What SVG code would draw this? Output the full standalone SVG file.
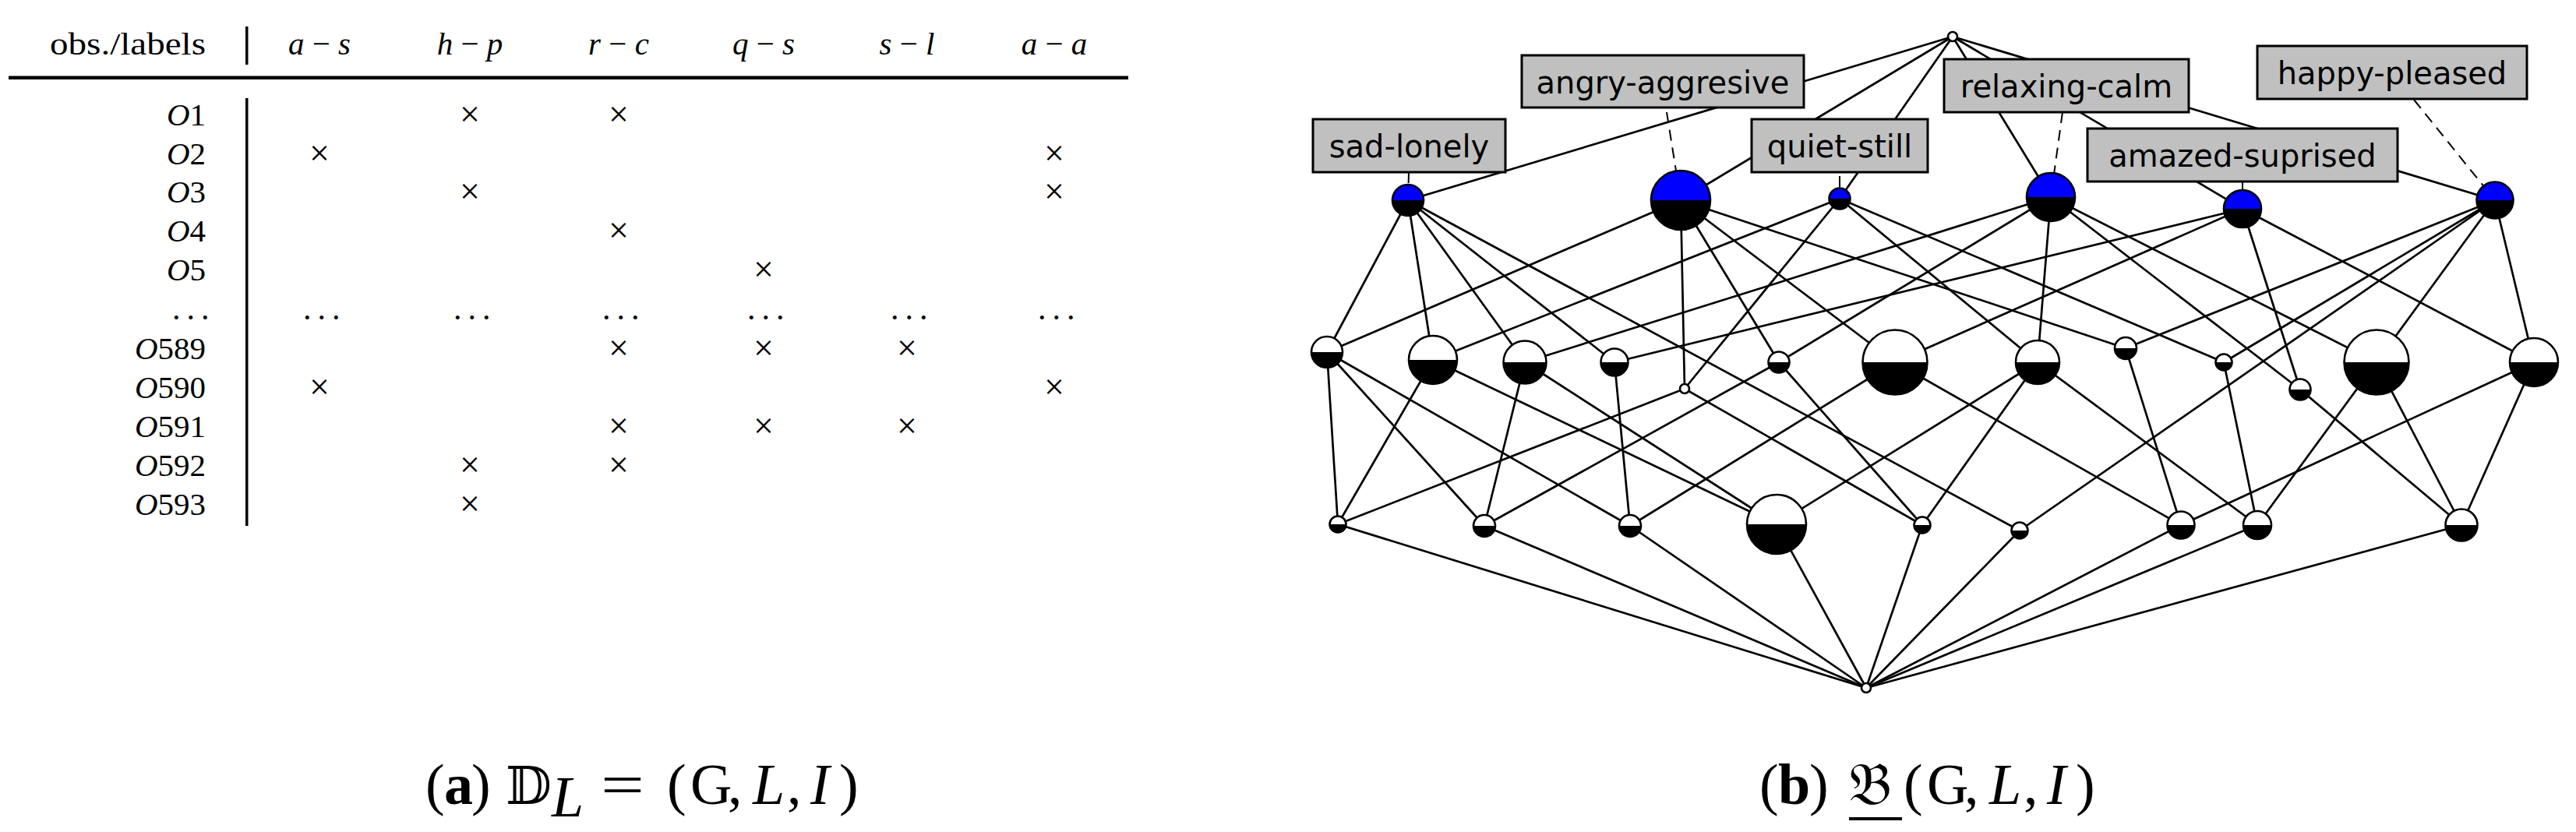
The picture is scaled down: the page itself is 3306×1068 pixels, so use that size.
<svg xmlns="http://www.w3.org/2000/svg" width="3306" height="1068" viewBox="0 0 3306 1068">
<style>
.tt{font-family:"Liberation Serif",serif;font-size:41px;fill:#000}
.it{font-style:italic}
.cx{font-family:"Liberation Serif",serif;font-size:46px;text-anchor:middle}
.dots{font-family:"Liberation Serif",serif;font-size:42px;letter-spacing:8px}
.e{stroke:#000;stroke-width:2.7;fill:none}
.dl{stroke:#000;stroke-width:2;stroke-dasharray:14 9;fill:none}
.w{fill:#fff}
.bl{fill:#0000ff}
.k{fill:#000}
.ring{fill:none;stroke:#000;stroke-width:2.6}
.box{fill:#c0c0c0;stroke:#000;stroke-width:3}
.lt{font-family:"DejaVu Sans",sans-serif;font-size:40px;text-anchor:middle;fill:#000}
.cap{font-family:"Liberation Serif",serif;font-size:74px;fill:#000}
.ms{font-family:"DejaVu Serif","DejaVu Sans",serif}
</style>
<rect width="3306" height="1068" fill="#fff"/>

<g id="table">
<text class="tt" x="264" y="70" text-anchor="end" textLength="200" lengthAdjust="spacingAndGlyphs">obs./labels</text>
<rect x="315" y="34" width="3.5" height="49" fill="#000"/>
<rect x="11" y="97.5" width="1437" height="4.5" fill="#000"/>
<rect x="315" y="126" width="3.5" height="549" fill="#000"/>
<g class="tt" text-anchor="middle">
<text x="410" y="70"><tspan class="it">a</tspan> − <tspan class="it">s</tspan></text>
<text x="603" y="70"><tspan class="it">h</tspan> − <tspan class="it">p</tspan></text>
<text x="794" y="70"><tspan class="it">r</tspan> − <tspan class="it">c</tspan></text>
<text x="980" y="70"><tspan class="it">q</tspan> − <tspan class="it">s</tspan></text>
<text x="1164" y="70"><tspan class="it">s</tspan> − <tspan class="it">l</tspan></text>
<text x="1353" y="70"><tspan class="it">a</tspan> − <tspan class="it">a</tspan></text>
</g>
<g class="tt" text-anchor="end">
<text x="264" y="161"><tspan class="it">O</tspan>1</text>
<text x="264" y="211"><tspan class="it">O</tspan>2</text>
<text x="264" y="260"><tspan class="it">O</tspan>3</text>
<text x="264" y="310"><tspan class="it">O</tspan>4</text>
<text x="264" y="360"><tspan class="it">O</tspan>5</text>
<text x="264" y="461"><tspan class="it">O</tspan>589</text>
<text x="264" y="511"><tspan class="it">O</tspan>590</text>
<text x="264" y="561"><tspan class="it">O</tspan>591</text>
<text x="264" y="611"><tspan class="it">O</tspan>592</text>
<text x="264" y="661"><tspan class="it">O</tspan>593</text>
</g>
<g class="dots">
<text x="221" y="410">...</text>
<text x="389" y="410">...</text>
<text x="582" y="410">...</text>
<text x="773" y="410">...</text>
<text x="959" y="410">...</text>
<text x="1143" y="410">...</text>
<text x="1332" y="410">...</text>
</g>
<g class="cx">
<text x="603" y="162">×</text><text x="794" y="162">×</text>
<text x="410" y="212">×</text><text x="1353" y="212">×</text>
<text x="603" y="261">×</text><text x="1353" y="261">×</text>
<text x="794" y="311">×</text>
<text x="980" y="361">×</text>
<text x="794" y="462">×</text><text x="980" y="462">×</text><text x="1164" y="462">×</text>
<text x="410" y="512">×</text><text x="1353" y="512">×</text>
<text x="794" y="562">×</text><text x="980" y="562">×</text><text x="1164" y="562">×</text>
<text x="603" y="612">×</text><text x="794" y="612">×</text>
<text x="603" y="662">×</text>
</g>
</g>

<g id="edges">
<line class="e" x1="2506" y1="47" x2="1807" y2="257"/>
<line class="e" x1="2506" y1="47" x2="2157" y2="257"/>
<line class="e" x1="2506" y1="47" x2="2361" y2="255"/>
<line class="e" x1="2506" y1="47" x2="2632" y2="253"/>
<line class="e" x1="2506" y1="47" x2="2878" y2="268"/>
<line class="e" x1="2506" y1="47" x2="3202" y2="257"/>
<line class="e" x1="1807" y1="257" x2="1703" y2="452"/>
<line class="e" x1="1807" y1="257" x2="1839" y2="462"/>
<line class="e" x1="1807" y1="257" x2="1957" y2="465"/>
<line class="e" x1="1807" y1="257" x2="2072" y2="465"/>
<line class="e" x1="1807" y1="257" x2="2592" y2="681"/>
<line class="e" x1="2157" y1="257" x2="1703" y2="452"/>
<line class="e" x1="2157" y1="257" x2="2162" y2="499"/>
<line class="e" x1="2157" y1="257" x2="2283" y2="465"/>
<line class="e" x1="2157" y1="257" x2="2432" y2="465"/>
<line class="e" x1="2157" y1="257" x2="2728" y2="447"/>
<line class="e" x1="2361" y1="255" x2="1839" y2="462"/>
<line class="e" x1="2361" y1="255" x2="2162" y2="499"/>
<line class="e" x1="2361" y1="255" x2="2615" y2="465"/>
<line class="e" x1="2361" y1="255" x2="2854" y2="465"/>
<line class="e" x1="2632" y1="253" x2="1957" y2="465"/>
<line class="e" x1="2632" y1="253" x2="2283" y2="465"/>
<line class="e" x1="2632" y1="253" x2="2615" y2="465"/>
<line class="e" x1="2632" y1="253" x2="2952" y2="500"/>
<line class="e" x1="2632" y1="253" x2="3050" y2="465"/>
<line class="e" x1="2878" y1="268" x2="2072" y2="465"/>
<line class="e" x1="2878" y1="268" x2="2432" y2="465"/>
<line class="e" x1="2878" y1="268" x2="2952" y2="500"/>
<line class="e" x1="2878" y1="268" x2="3252" y2="465"/>
<line class="e" x1="3202" y1="257" x2="2728" y2="447"/>
<line class="e" x1="3202" y1="257" x2="2854" y2="465"/>
<line class="e" x1="3202" y1="257" x2="2592" y2="681"/>
<line class="e" x1="3202" y1="257" x2="3050" y2="465"/>
<line class="e" x1="3202" y1="257" x2="3252" y2="465"/>
<line class="e" x1="1703" y1="452" x2="1717" y2="673"/>
<line class="e" x1="1703" y1="452" x2="1905" y2="675"/>
<line class="e" x1="1703" y1="452" x2="2092" y2="675"/>
<line class="e" x1="1839" y1="462" x2="1717" y2="673"/>
<line class="e" x1="1839" y1="462" x2="2280" y2="673"/>
<line class="e" x1="1957" y1="465" x2="1905" y2="675"/>
<line class="e" x1="1957" y1="465" x2="2280" y2="673"/>
<line class="e" x1="2072" y1="465" x2="2092" y2="675"/>
<line class="e" x1="2162" y1="499" x2="1717" y2="673"/>
<line class="e" x1="2162" y1="499" x2="2467" y2="674"/>
<line class="e" x1="2283" y1="465" x2="1905" y2="675"/>
<line class="e" x1="2283" y1="465" x2="2467" y2="674"/>
<line class="e" x1="2432" y1="465" x2="2092" y2="675"/>
<line class="e" x1="2432" y1="465" x2="2799" y2="674"/>
<line class="e" x1="2615" y1="465" x2="2280" y2="673"/>
<line class="e" x1="2615" y1="465" x2="2467" y2="674"/>
<line class="e" x1="2615" y1="465" x2="2897" y2="674"/>
<line class="e" x1="2728" y1="447" x2="2799" y2="674"/>
<line class="e" x1="2854" y1="465" x2="2897" y2="674"/>
<line class="e" x1="2952" y1="500" x2="3159" y2="674"/>
<line class="e" x1="3050" y1="465" x2="2897" y2="674"/>
<line class="e" x1="3050" y1="465" x2="3159" y2="674"/>
<line class="e" x1="3252" y1="465" x2="2799" y2="674"/>
<line class="e" x1="3252" y1="465" x2="3159" y2="674"/>
<line class="e" x1="1717" y1="673" x2="2395" y2="883"/>
<line class="e" x1="1905" y1="675" x2="2395" y2="883"/>
<line class="e" x1="2092" y1="675" x2="2395" y2="883"/>
<line class="e" x1="2280" y1="673" x2="2395" y2="883"/>
<line class="e" x1="2467" y1="674" x2="2395" y2="883"/>
<line class="e" x1="2592" y1="681" x2="2395" y2="883"/>
<line class="e" x1="2799" y1="674" x2="2395" y2="883"/>
<line class="e" x1="2897" y1="674" x2="2395" y2="883"/>
<line class="e" x1="3159" y1="674" x2="2395" y2="883"/>
<line class="dl" x1="1808" y1="221" x2="1807" y2="257"/>
<line class="dl" x1="2139" y1="144" x2="2157" y2="257"/>
<line class="dl" x1="2361" y1="226" x2="2361" y2="255"/>
<line class="dl" x1="2647" y1="144" x2="2632" y2="253"/>
<line class="dl" x1="2878" y1="233" x2="2878" y2="268"/>
<line class="dl" x1="3098" y1="128" x2="3202" y2="257"/>
</g>

<g id="n-top"><circle cx="2506" cy="47" r="6" class="w"/><circle cx="2506" cy="47" r="6" class="ring"/></g>
<g id="n-sad"><circle cx="1807" cy="257" r="20" class="bl"/><path class="k" d="M1787,257A20,20 0 0 0 1827,257Z"/><circle cx="1807" cy="257" r="20" class="ring"/></g>
<g id="n-angry"><circle cx="2157" cy="257" r="38" class="bl"/><path class="k" d="M2119,257A38,38 0 0 0 2195,257Z"/><circle cx="2157" cy="257" r="38" class="ring"/></g>
<g id="n-quiet"><circle cx="2361" cy="255" r="13.5" class="bl"/><path class="k" d="M2347.5,255A13.5,13.5 0 0 0 2374.5,255Z"/><circle cx="2361" cy="255" r="13.5" class="ring"/></g>
<g id="n-relax"><circle cx="2632" cy="253" r="31" class="bl"/><path class="k" d="M2601,253A31,31 0 0 0 2663,253Z"/><circle cx="2632" cy="253" r="31" class="ring"/></g>
<g id="n-amazed"><circle cx="2878" cy="268" r="24" class="bl"/><path class="k" d="M2854,268A24,24 0 0 0 2902,268Z"/><circle cx="2878" cy="268" r="24" class="ring"/></g>
<g id="n-happy"><circle cx="3202" cy="257" r="23.5" class="bl"/><path class="k" d="M3178.5,257A23.5,23.5 0 0 0 3225.5,257Z"/><circle cx="3202" cy="257" r="23.5" class="ring"/></g>

<g id="n-m1"><circle cx="1703" cy="452" r="20" class="w"/><path class="k" d="M1683,452A20,20 0 0 0 1723,452Z"/><circle cx="1703" cy="452" r="20" class="ring"/></g>
<g id="n-m2"><circle cx="1839" cy="462" r="31" class="w"/><path class="k" d="M1808,462A31,31 0 0 0 1870,462Z"/><circle cx="1839" cy="462" r="31" class="ring"/></g>
<g id="n-m3"><circle cx="1957" cy="465" r="27.5" class="w"/><path class="k" d="M1929.5,465A27.5,27.5 0 0 0 1984.5,465Z"/><circle cx="1957" cy="465" r="27.5" class="ring"/></g>
<g id="n-m4"><circle cx="2072" cy="465" r="17.5" class="w"/><path class="k" d="M2054.5,465A17.5,17.5 0 0 0 2089.5,465Z"/><circle cx="2072" cy="465" r="17.5" class="ring"/></g>
<g id="n-m5"><circle cx="2162" cy="499" r="6" class="w"/><circle cx="2162" cy="499" r="6" class="ring"/></g>
<g id="n-m6"><circle cx="2283" cy="465" r="13.5" class="w"/><path class="k" d="M2269.5,465A13.5,13.5 0 0 0 2296.5,465Z"/><circle cx="2283" cy="465" r="13.5" class="ring"/></g>
<g id="n-m7"><circle cx="2432" cy="465" r="41.5" class="w"/><path class="k" d="M2390.5,465A41.5,41.5 0 0 0 2473.5,465Z"/><circle cx="2432" cy="465" r="41.5" class="ring"/></g>
<g id="n-m8"><circle cx="2615" cy="465" r="28" class="w"/><path class="k" d="M2587,465A28,28 0 0 0 2643,465Z"/><circle cx="2615" cy="465" r="28" class="ring"/></g>
<g id="n-m9"><circle cx="2728" cy="447" r="14" class="w"/><path class="k" d="M2714,447A14,14 0 0 0 2742,447Z"/><circle cx="2728" cy="447" r="14" class="ring"/></g>
<g id="n-m10"><circle cx="2854" cy="465" r="10.5" class="w"/><path class="k" d="M2843.5,465A10.5,10.5 0 0 0 2864.5,465Z"/><circle cx="2854" cy="465" r="10.5" class="ring"/></g>
<g id="n-m11"><circle cx="2952" cy="500" r="13.5" class="w"/><path class="k" d="M2938.5,500A13.5,13.5 0 0 0 2965.5,500Z"/><circle cx="2952" cy="500" r="13.5" class="ring"/></g>
<g id="n-m12"><circle cx="3050" cy="465" r="41.5" class="w"/><path class="k" d="M3008.5,465A41.5,41.5 0 0 0 3091.5,465Z"/><circle cx="3050" cy="465" r="41.5" class="ring"/></g>
<g id="n-m13"><circle cx="3252" cy="465" r="31" class="w"/><path class="k" d="M3221,465A31,31 0 0 0 3283,465Z"/><circle cx="3252" cy="465" r="31" class="ring"/></g>

<g id="n-b1"><circle cx="1717" cy="673" r="10.5" class="w"/><path class="k" d="M1706.5,673A10.5,10.5 0 0 0 1727.5,673Z"/><circle cx="1717" cy="673" r="10.5" class="ring"/></g>
<g id="n-b2"><circle cx="1905" cy="675" r="14" class="w"/><path class="k" d="M1891,675A14,14 0 0 0 1919,675Z"/><circle cx="1905" cy="675" r="14" class="ring"/></g>
<g id="n-b3"><circle cx="2092" cy="675" r="14" class="w"/><path class="k" d="M2078,675A14,14 0 0 0 2106,675Z"/><circle cx="2092" cy="675" r="14" class="ring"/></g>
<g id="n-b4"><circle cx="2280" cy="673" r="38" class="w"/><path class="k" d="M2242,673A38,38 0 0 0 2318,673Z"/><circle cx="2280" cy="673" r="38" class="ring"/></g>
<g id="n-b5"><circle cx="2467" cy="674" r="10.5" class="w"/><path class="k" d="M2456.5,674A10.5,10.5 0 0 0 2477.5,674Z"/><circle cx="2467" cy="674" r="10.5" class="ring"/></g>
<g id="n-b6"><circle cx="2592" cy="681" r="10.5" class="w"/><path class="k" d="M2581.5,681A10.5,10.5 0 0 0 2602.5,681Z"/><circle cx="2592" cy="681" r="10.5" class="ring"/></g>
<g id="n-b7"><circle cx="2799" cy="674" r="17.5" class="w"/><path class="k" d="M2781.5,674A17.5,17.5 0 0 0 2816.5,674Z"/><circle cx="2799" cy="674" r="17.5" class="ring"/></g>
<g id="n-b8"><circle cx="2897" cy="674" r="18" class="w"/><path class="k" d="M2879,674A18,18 0 0 0 2915,674Z"/><circle cx="2897" cy="674" r="18" class="ring"/></g>
<g id="n-b9"><circle cx="3159" cy="674" r="20.5" class="w"/><path class="k" d="M3138.5,674A20.5,20.5 0 0 0 3179.5,674Z"/><circle cx="3159" cy="674" r="20.5" class="ring"/></g>
<g id="n-bottom"><circle cx="2395" cy="883" r="6" class="w"/><circle cx="2395" cy="883" r="6" class="ring"/></g>

<g id="label-sad"><rect class="box" x="1685" y="153" width="247" height="68"/><text class="lt" x="1808.5" y="202">sad-lonely</text></g>
<g id="label-angry"><rect class="box" x="1953" y="71" width="362" height="67"/><text class="lt" x="2134" y="120">angry-aggresive</text></g>
<g id="label-quiet"><rect class="box" x="2248" y="153" width="226" height="68"/><text class="lt" x="2361" y="202">quiet-still</text></g>
<g id="label-relax"><rect class="box" x="2495" y="76" width="314" height="68"/><text class="lt" x="2652" y="125">relaxing-calm</text></g>
<g id="label-amazed"><rect class="box" x="2679" y="165" width="398" height="68"/><text class="lt" x="2878" y="214">amazed-suprised</text></g>
<g id="label-happy"><rect class="box" x="2897" y="59" width="346" height="68"/><text class="lt" x="3070" y="108">happy-pleased</text></g>

<g id="caption-a">
<text class="cap" x="546" y="1032">(</text>
<text class="cap" x="570" y="1032" font-weight="bold">a</text>
<text class="cap" x="605" y="1032">)</text>
<text class="ms" x="649" y="1032" font-size="68">𝔻</text>
<text class="cap it" x="708" y="1048" font-size="50">L</text>
<text class="cap" x="771" y="1032" textLength="56" lengthAdjust="spacingAndGlyphs">=</text>
<text class="cap" x="856" y="1032">(</text>
<text class="cap" x="886" y="1032">G</text>
<text class="cap" x="934" y="1032">,</text>
<text class="cap it" x="966" y="1032">L</text>
<text class="cap" x="1010" y="1032">,</text>
<text class="cap it" x="1040" y="1032">I</text>
<text class="cap" x="1077" y="1032">)</text>
</g>
<g id="caption-b">
<text class="cap" x="2258" y="1032">(</text>
<text class="cap" x="2282" y="1032" font-weight="bold">b</text>
<text class="cap" x="2322" y="1032">)</text>
<text class="ms" x="2373" y="1032" font-size="76">𝔅</text>
<rect x="2373" y="1049" width="68" height="4" fill="#000"/>
<text class="cap" x="2443" y="1032">(</text>
<text class="cap" x="2473" y="1032">G</text>
<text class="cap" x="2521" y="1032">,</text>
<text class="cap it" x="2553" y="1032">L</text>
<text class="cap" x="2597" y="1032">,</text>
<text class="cap it" x="2627" y="1032">I</text>
<text class="cap" x="2664" y="1032">)</text>
</g>
</svg>
